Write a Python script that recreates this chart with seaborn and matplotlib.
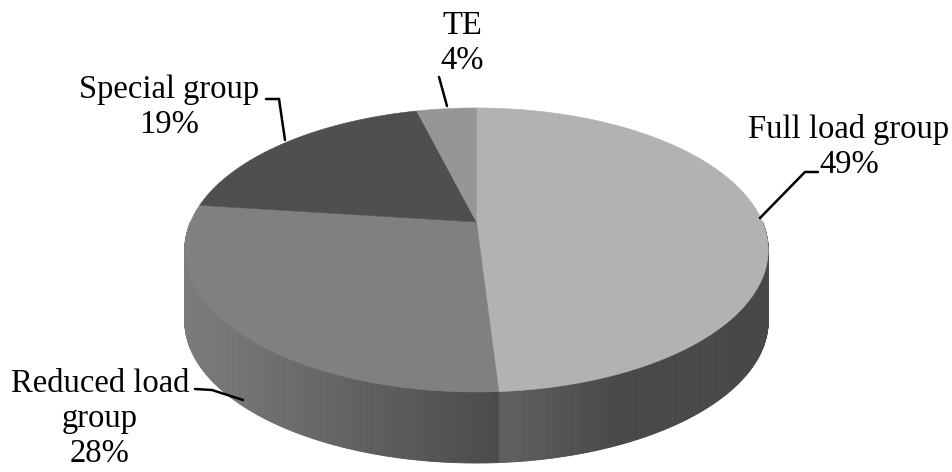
import numpy as np
import matplotlib
matplotlib.use("Agg")
import matplotlib.pyplot as plt
import seaborn as sns
from matplotlib.collections import PolyCollection
from matplotlib.patches import Polygon

# Share of each group (percent), starting at 12 o'clock and running clockwise
groups = ["Full load group", "Reduced load\ngroup", "Special group", "TE"]
shares = [49, 28, 19, 4]

sns.set_theme(style="white")
plt.rcParams["font.family"] = ["Liberation Serif", "DejaVu Serif"]

top_colors = sns.color_palette(["#b2b2b2", "#808080", "#4f4f4f", "#969696"])

# Perspective disc: centre, radii, foreshortening and thickness (in pixels)
CX, CY = 476.5, 222.0
RX, RY, PERSP = 286.0, 136.5, 0.197
DEPTH = 71.0


def project(theta_deg, drop=0.0):
    t = np.radians(theta_deg)
    u, v = np.cos(t), np.sin(t)
    w = 1.0 + PERSP * v
    return CX + RX * u / w, CY - RY * v / w + drop


fig = plt.figure(figsize=(9.53, 4.72), dpi=100)
ax = fig.add_axes([0, 0, 1, 1])
ax.set_xlim(0, 953)
ax.set_ylim(472, 0)
ax.axis("off")

bounds = 90.0 - 360.0 * np.concatenate([[0], np.cumsum(shares)]) / 100.0

# Side shading: (grey at left end, grey at right end, fraction of width over which it fades)
side_shade = {0: (0x60, 0x48, 0.45), 1: (0x7c, 0x4a, 1.0)}

# Front wall of the cylinder
for i, (a0, a1) in enumerate(zip(bounds[:-1], bounds[1:])):
    lo, hi = max(a1, -180.0), min(a0, 0.0)
    if lo >= hi:
        continue
    th = np.linspace(hi, lo, 240)
    xs, ys = project(th)
    c0, c1, frac = side_shade.get(i, (0x50, 0x48, 1.0))
    x_left, x_right = xs.min(), xs.max()
    quads, cols = [], []
    for k in range(len(th) - 1):
        quad = [(xs[k], ys[k]), (xs[k + 1], ys[k + 1]),
                (xs[k + 1], ys[k + 1] + DEPTH), (xs[k], ys[k] + DEPTH)]
        xm = 0.5 * (xs[k] + xs[k + 1])
        t = np.clip((xm - x_left) / ((x_right - x_left) * frac), 0, 1)
        g = (c0 + (c1 - c0) * t) / 255.0
        quads.append(quad)
        cols.append((g, g, g))
    ax.add_collection(PolyCollection(quads, facecolors=cols, edgecolors=cols,
                                     linewidths=0.6, antialiased=True, zorder=1))

# Top face
for i, (a0, a1) in enumerate(zip(bounds[:-1], bounds[1:])):
    th = np.linspace(a0, a1, 200)
    xs, ys = project(th)
    pts = np.column_stack([np.r_[CX, xs], np.r_[CY, ys]])
    ax.add_patch(Polygon(pts, closed=True, facecolor=top_colors[i],
                         edgecolor=top_colors[i], linewidth=0.4, zorder=2))

# Labels with leader lines
label_pos = [(849, 147), (100, 419), (169, 107), (462, 43)]
leaders = [
    [(760, 218), (805, 172), (818, 172)],
    [(195, 389), (212, 390), (243, 400)],
    [(266, 99), (279, 99), (285, 140)],
    [(439, 77), (447, 106)],
]
for name, pct, (lx, ly), line in zip(groups, shares, label_pos, leaders):
    ax.text(lx, ly, f"{name}\n{pct}%", ha="center", va="center",
            fontsize=23.5, color="black", linespacing=1.2, zorder=4)
    lxs, lys = zip(*line)
    ax.plot(lxs, lys, color="black", lw=1.8, solid_joinstyle="miter", zorder=3)

fig.savefig("out.png", dpi=100, facecolor="white")
